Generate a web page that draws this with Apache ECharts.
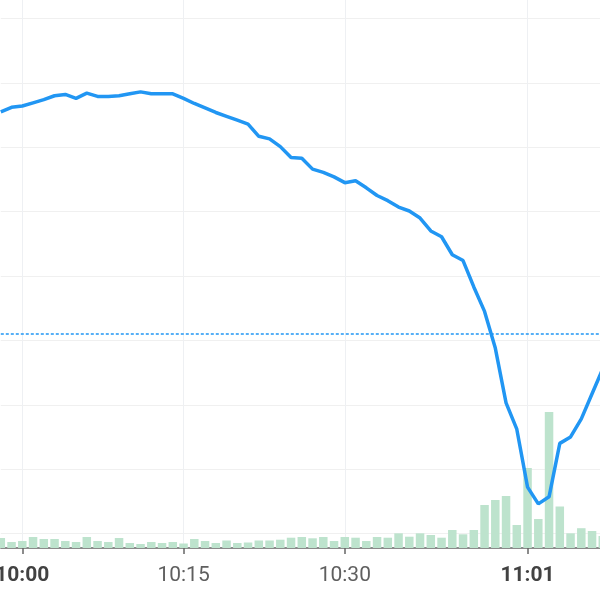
<!DOCTYPE html>
<html>
<head>
<meta charset="utf-8">
<script src="https://cdn.jsdelivr.net/npm/echarts@6/dist/echarts.min.js"></script>
<style>html,body{margin:0;padding:0;background:#fff}#c{width:600px;height:600px}</style>
</head>
<body>
<div id="c"></div>
<script>
const categories = ['09:58','09:59','10:00','10:01','10:02','10:03','10:04','10:05','10:06','10:07',
  '10:08','10:09','10:10','10:11','10:12','10:13','10:14','10:15','10:16','10:17',
  '10:18','10:19','10:20','10:21','10:22','10:23','10:24','10:25','10:26','10:27',
  '10:28','10:29','10:30','10:31','10:32','10:33','10:34','10:35','10:36','10:37',
  '10:38','10:39','10:40','10:41','10:42','10:43','10:44','10:45','10:46','11:01',
  '11:02','11:03','11:04','11:05','11:06','11:07','11:08'];
const price = [6.55,6.62,6.64,6.69,6.74,6.80,6.82,6.76,6.84,6.79,
  6.79,6.80,6.83,6.86,6.83,6.83,6.83,6.76,6.68,6.61,
  6.54,6.48,6.42,6.36,6.17,6.13,6.01,5.84,5.83,5.66,
  5.61,5.54,5.45,5.48,5.37,5.25,5.17,5.07,5.01,4.90,
  4.70,4.61,4.33,4.24,3.83,3.45,2.88,2.03,1.62,0.72,
  0.46,0.57,1.40,1.50,1.78,2.17,2.56];
const volume = [10,6,7,11,9,9,7,6,11,7,
  6,10,5,4,6,5,6,4.5,9,7,
  5,7.5,5,5.5,7.5,7.5,8.3,10.3,11,9.7,
  11,7,11,10.3,7,11,10.3,14.7,11.3,14.7,
  13,10.3,18,13.7,18,43,48,52,23,80,
  29,136,41.5,14.7,19.8,17,12];
const prevClose = 3.11;
const tickLabels = ['10:00','10:15','10:30','11:01'];
const boldLabels = ['10:00','11:01'];

const showAt = (idx, val) => tickLabels.includes(val);

const chart = echarts.init(document.getElementById('c'), null, {renderer:'canvas'});
chart.setOption({
  animation: false,
  grid: [
    {left: 0.8, right: -2.8, top: 18.5, bottom: 66.5, containLabel:false, outerBoundsMode:'none'},
    {left: 0.8, right: -2.8, top: 0, bottom: 52, containLabel:false, outerBoundsMode:'none'}
  ],
  xAxis: [
    {type:'category', gridIndex:0, data: categories, boundaryGap:false, show:false},
    {type:'category', gridIndex:1, data: categories, boundaryGap:false,
     axisLine:{show:true, lineStyle:{color:'#666', width:1.5}},
     axisTick:{show:true, interval: showAt, length:6, lineStyle:{color:'#666', width:1.5}},
     splitLine:{show:true, interval: showAt, lineStyle:{color:'#eef0f3', width:1}},
     axisLabel:{interval: showAt, margin:17, fontFamily:'Roboto', fontSize:21, color:'#5f5f5f',
       hideOverlap:false,
       formatter: v => boldLabels.includes(v) ? '{b|' + v + '}' : v,
       rich:{b:{fontFamily:'Roboto', fontSize:21, fontWeight:'bold', color:'#424242'}}}
    }
  ],
  yAxis: [
    {type:'value', gridIndex:0, min:0, max:8, interval:1,
     axisLine:{show:false}, axisTick:{show:false}, axisLabel:{show:false},
     splitLine:{show:true, lineStyle:{color:'#f0f0f0', width:1}}},
    {type:'value', gridIndex:1, min:0, max:548, show:false, splitLine:{show:false}}
  ],
  series: [
    {type:'bar', xAxisIndex:1, yAxisIndex:1, data: volume, barWidth:8.5,
     itemStyle:{color:'#bde3cd'}, z:1, silent:true},
    {type:'line', xAxisIndex:0, yAxisIndex:0, data: price, showSymbol:false,
     lineStyle:{color:'#2196f3', width:3.5}, z:3, silent:true,
     markLine:{silent:true, symbol:'none', label:{show:false},
       lineStyle:{color:'#2196f3', type:[3,2], width:1.5},
       data:[{yAxis: prevClose}]}}
  ]
});
</script>
</body>
</html>
